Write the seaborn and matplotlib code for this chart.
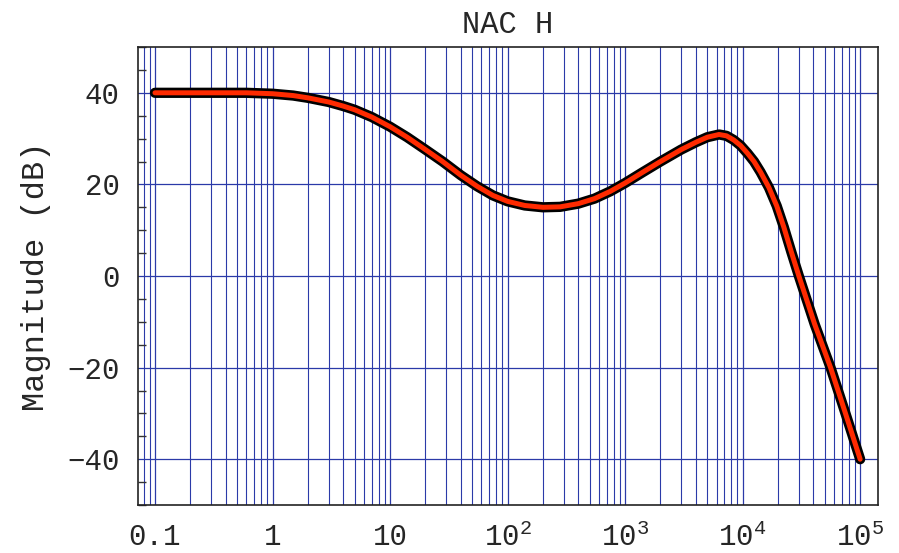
import numpy as np
import pandas as pd
import matplotlib
matplotlib.use("Agg")
import matplotlib.pyplot as plt
from matplotlib.ticker import FixedLocator, FixedFormatter, MultipleLocator, LogLocator, NullFormatter
import seaborn as sns

# values (frequency, magnitude in dB)
freq = [0.1, 0.3, 0.6, 1, 1.5, 2, 3, 4, 5, 7, 10, 14, 20, 28, 40, 55, 75, 100,
        140, 200, 280, 400, 550, 750, 1000, 1400, 2000, 3000, 4000, 5000,
        6300, 7300, 8400, 9600, 11000, 12500, 14200, 16750, 19500, 22400,
        26000, 30100, 41000, 56000, 75000, 100000]
mag_db = [40.0, 40.0, 40.0, 39.8, 39.4, 38.9, 38.0, 37.1, 36.3, 34.7, 32.6,
          30.3, 27.6, 25.0, 22.0, 19.6, 17.6, 16.3, 15.4, 15.0, 15.1, 15.8,
          16.9, 18.5, 20.3, 22.6, 25.0, 27.6, 29.2, 30.3, 30.9, 30.6, 29.7,
          28.5, 26.8, 25.0, 22.7, 19.3, 15.3, 10.7, 5.2, 0.0, -10.5, -20.0,
          -30.0, -40.0]

xticks = [0.1, 1, 10, 100, 1000, 10000, 100000]
xlabels = ["0.1", "1", "10", "$10^{2}$", "$10^{3}$", "$10^{4}$", "$10^{5}$"]
yticks = [-40, -20, 0, 20, 40]
ylabels = ["\u221240", "\u221220", "0", "20", "40"]

df = pd.DataFrame({"f": freq, "dB": mag_db})

sns.set_style("white")
plt.rcParams["font.family"] = ["Liberation Mono", "DejaVu Sans"]
plt.rcParams["mathtext.fontset"] = "custom"
plt.rcParams["mathtext.rm"] = "Liberation Mono"
plt.rcParams["mathtext.it"] = "Liberation Mono"

fig = plt.figure(figsize=(8.99, 5.53), dpi=100)
ax = fig.add_axes([0.1535, 0.0868, 0.8232, 0.8282])

# grid first so the curve sits on top
ax.set_xscale("log")
ax.set_xlim(0.0717, 1.42e5)
ax.set_ylim(-50, 50)
ax.xaxis.set_major_locator(FixedLocator(xticks))
ax.xaxis.set_major_formatter(FixedFormatter(xlabels))
ax.xaxis.set_minor_locator(LogLocator(base=10, subs=np.arange(2, 10)))
ax.xaxis.set_minor_formatter(NullFormatter())
ax.yaxis.set_major_locator(FixedLocator(yticks))
ax.yaxis.set_major_formatter(FixedFormatter(ylabels))
ax.yaxis.set_minor_locator(MultipleLocator(5))

ax.grid(which="major", axis="both", color="#2b3aa8", linewidth=0.9)
ax.grid(which="minor", axis="x", color="#2b3aa8", linewidth=0.8)
ax.set_axisbelow(True)

# thick black outline with red core
sns.lineplot(data=df, x="f", y="dB", ax=ax, color="black", linewidth=7.4,
             solid_capstyle="round", solid_joinstyle="round", sort=False)
sns.lineplot(data=df, x="f", y="dB", ax=ax, color="#ff2a00", linewidth=3.6,
             solid_capstyle="round", solid_joinstyle="round", sort=False)

ax.set_xlabel("")
ax.set_ylabel("Magnitude (dB)", fontsize=23, labelpad=12)
ax.set_title("NAC H", fontsize=22, pad=10)

ax.tick_params(axis="x", which="both", length=0, labelsize=21, pad=13)
ax.tick_params(axis="y", which="major", direction="in", length=0, labelsize=21, pad=13)
ax.tick_params(axis="y", which="minor", direction="in", length=6, width=1, color="#333333", left=True)

for s in ax.spines.values():
    s.set_color("#222222")
    s.set_linewidth(1.2)

fig.savefig("out.png", dpi=100)
